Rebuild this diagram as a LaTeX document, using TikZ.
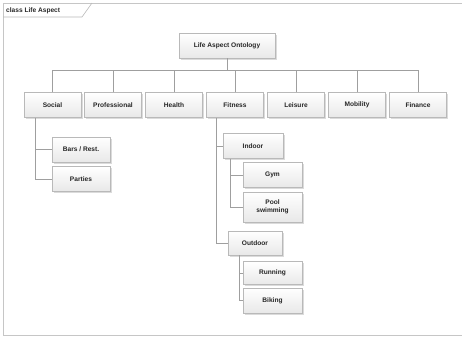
\documentclass[tikz,border=0pt]{standalone}
\usepackage{fontspec}
\setmainfont{Liberation Sans}
\usepackage{tikz}
\usetikzlibrary{calc,shadows}

\tikzset{
  cls/.style={draw=gray!55, line width=0.5pt, top color=white, bottom color=gray!18,
    drop shadow={shadow xshift=1.6pt, shadow yshift=-1.6pt, opacity=0.4, fill=gray!70},
    font=\fontsize{6.6}{7.4}\selectfont\bfseries, text=black!85, align=center,
    inner sep=1pt, minimum height=25pt},
  link/.style={draw=gray!75, line width=0.6pt},
}

\begin{document}
\begin{tikzpicture}[x=1pt,y=1pt,yscale=-1,xscale=1]
\useasboundingbox (0,0) rectangle (462,338);

% frame and tab
\draw [gray!45, line width=1pt] (462,3) -- (3,3) -- (3,335) -- (462,335) ;
\draw [gray!55, line width=0.6pt] (3,17) -- (82,17) -- (92,3) ;
\node [anchor=west, inner sep=0pt, font=\fontsize{6.6}{8}\selectfont\bfseries, text=black!85] (title) at (6,10.5) {class Life Aspect};

% Root
\node [cls, minimum width=96pt] (root) at (227,45.5) {Life Aspect Ontology};

% First level
\node [cls, minimum width=57pt] (social) at (52.5,105) {Social};
\node [cls, minimum width=57pt] (professional) at (113,105) {Professional};
\node [cls, minimum width=57pt] (health) at (174,105) {Health};
\node [cls, minimum width=57pt] (fitness) at (235,105) {Fitness};
\node [cls, minimum width=57pt] (leisure) at (296,105) {Leisure};
\node [cls, minimum width=57pt] (mobility) at (357,105) {Mobility};
\node [cls, minimum width=57pt] (finance) at (418,105) {Finance};

% Social children
\node [cls, minimum width=58pt] (bars) at (81,149.5) {Bars / Rest.};
\node [cls, minimum width=58pt] (parties) at (81,179) {Parties};

% Fitness children
\node [cls, minimum width=60pt] (indoor) at (253,146) {Indoor};
\node [cls, minimum width=59pt] (gym) at (272.5,175) {Gym};
\node [cls, minimum width=59pt, minimum height=30pt] (pool) at (272.5,207) {Pool\\swimming};
\node [cls, minimum width=54pt, minimum height=24pt] (outdoor) at (255,243) {Outdoor};
\node [cls, minimum width=59pt, minimum height=23pt] (running) at (272.5,273) {Running};
\node [cls, minimum width=59pt] (biking) at (272.5,300.5) {Biking};

% connectors
\coordinate (bus) at (227,70);
\draw [link] (root.south) -- (bus);
\draw [link] (social.north |- bus) -- (finance.north |- bus);
\foreach \n in {social,professional,health,fitness,leisure,mobility,finance}
  \draw [link] (\n.north) -- (\n.north |- bus);

\coordinate (sbar) at ($(social.south)+(-17,0)$);
\draw [link] (sbar) -- (sbar |- parties.west) -- (parties.west);
\draw [link] (sbar |- bars.west) -- (bars.west);

\coordinate (fbar) at ($(fitness.south)+(-19,0)$);
\draw [link] (fbar) -- (fbar |- outdoor.west) -- (outdoor.west);
\draw [link] (fbar |- indoor.west) -- (indoor.west);

\coordinate (ibar) at ($(indoor.south)+(-23,0)$);
\draw [link] (ibar) -- (ibar |- pool.west) -- (pool.west);
\draw [link] (ibar |- gym.west) -- (gym.west);

\coordinate (obar) at ($(outdoor.south)+(-16,0)$);
\draw [link] (obar) -- (obar |- biking.west) -- (biking.west);
\draw [link] (obar |- running.west) -- (running.west);
\end{tikzpicture}
\end{document}
